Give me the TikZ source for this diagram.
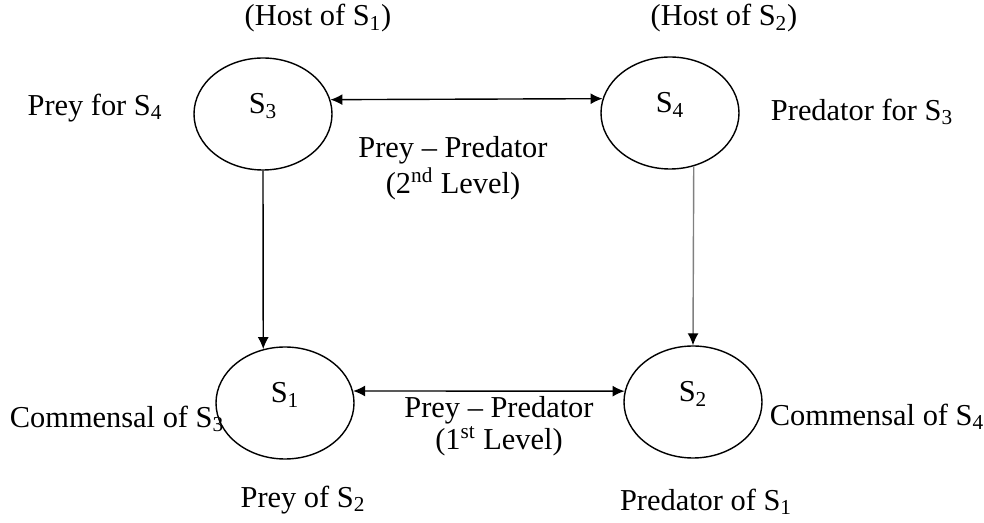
\documentclass[tikz,border=0pt]{standalone}
\usepackage{fontspec}
\setmainfont{Liberation Serif}
\usetikzlibrary{shapes, positioning, arrows.meta}

\begin{document}
\begin{tikzpicture}[
        species/.style={ellipse, draw, line width=0.8pt, minimum width=2.76cm, minimum height=2.24cm, inner sep=0pt},
        tag/.style={font=\fontsize{17.3}{17}\selectfont, align=center, inner sep=0pt},
        >={Latex[length=2.4mm, width=2.2mm]}
    ]
        \useasboundingbox (0, 0) rectangle (19.68, -10.46);

        \node[species, label={[tag, yshift=0.16cm]center:S\textsubscript{3}}] at (5.26, -2.28) (s3) {};
        \node[species, label={[tag, yshift=0.16cm]center:S\textsubscript{4}}] at (13.4, -2.26) (s4) {};
        \node[species, label={[tag, yshift=0.16cm]center:S\textsubscript{1}}] at (5.7, -8.06) (s1) {};
        \node[species, label={[tag, yshift=0.16cm]center:S\textsubscript{2}}] at (13.86, -8.04) (s2) {};

        \draw[<->, line width=0.8pt] (s3.12) to (s4.168);
        \draw[<->, line width=0.8pt] (s1.10) to (s2.171);
        \draw[->, line width=0.8pt] (s3.south) to (s1.112);
        \draw[-{Latex[length=2.4mm, width=2.2mm, color=black]}, line width=0.8pt, gray] (s4.294) to (s2.north);

        \node[tag] at (6.36, -0.36) (host1) {(Host of S\textsubscript{1})};
        \node[tag] at (14.48, -0.36) (host2) {(Host of S\textsubscript{2})};
        \node[tag] at (1.9, -2.16) (preyfor) {Prey for S\textsubscript{4}};
        \node[tag] at (17.24, -2.24) (predfor) {Predator for S\textsubscript{3}};
        \node[tag] at (9.06, -3.36) (level2) {Prey -- Predator\\[1pt](2\textsuperscript{nd} Level)};
        \node[tag] at (9.98, -8.52) (level1) {Prey -- Predator\\[1pt](1\textsuperscript{st} Level)};
        \node[tag] at (2.34, -8.38) (comm3) {Commensal of S\textsubscript{3}};
        \node[tag] at (17.54, -8.34) (comm4) {Commensal of S\textsubscript{4}};
        \node[tag] at (6.06, -10.0) (preyof) {Prey of S\textsubscript{2}};
        \node[tag] at (14.12, -10.04) (predof) {Predator of S\textsubscript{1}};
    \end{tikzpicture}
\end{document}
